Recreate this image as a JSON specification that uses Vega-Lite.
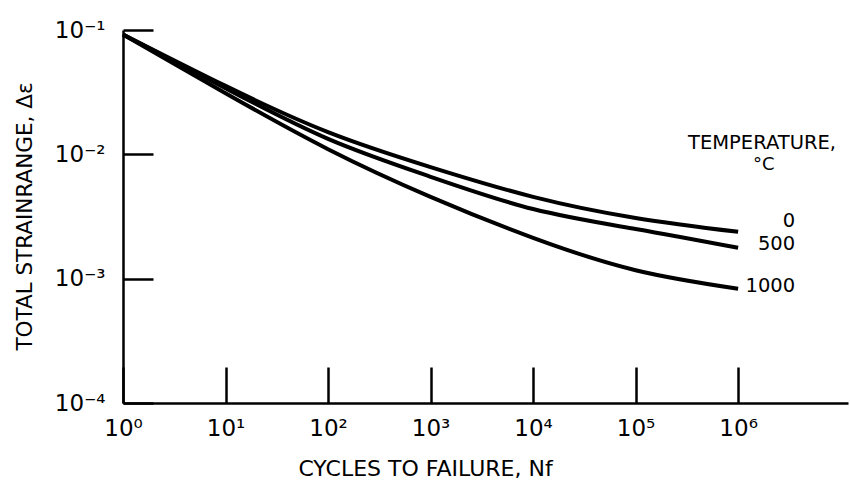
{
  "$schema": "https://vega.github.io/schema/vega-lite/v6.json",
  "width": 725,
  "height": 373,
  "autosize": {"type": "none"},
  "padding": {"left": 123, "top": 30, "right": 2, "bottom": 83},
  "background": "white",
  "config": {
    "view": {"stroke": null},
    "font": "DejaVu Sans",
    "axis": {
      "domainColor": "black",
      "domainWidth": 2.5,
      "tickColor": "black",
      "tickWidth": 2.5,
      "grid": false,
      "labelColor": "black",
      "titleColor": "black",
      "labelFont": "DejaVu Sans",
      "titleFont": "DejaVu Sans",
      "labelFlush": false,
      "labelOverlap": false,
      "labelBound": false,
      "titleFontWeight": "normal"
    }
  },
  "datasets": {
    "curves": [
      {"T": "0", "N": 1, "strain": 0.092},
      {"T": "0", "N": 10, "strain": 0.0355},
      {"T": "0", "N": 100, "strain": 0.0151},
      {"T": "0", "N": 1000, "strain": 0.0079},
      {"T": "0", "N": 10000, "strain": 0.00455},
      {"T": "0", "N": 100000, "strain": 0.00308},
      {"T": "0", "N": 1000000, "strain": 0.00238},
      {"T": "500", "N": 1, "strain": 0.092},
      {"T": "500", "N": 10, "strain": 0.034},
      {"T": "500", "N": 100, "strain": 0.0133},
      {"T": "500", "N": 1000, "strain": 0.0066},
      {"T": "500", "N": 10000, "strain": 0.00363},
      {"T": "500", "N": 100000, "strain": 0.00251},
      {"T": "500", "N": 1000000, "strain": 0.00177},
      {"T": "1000", "N": 1, "strain": 0.092},
      {"T": "1000", "N": 10, "strain": 0.031},
      {"T": "1000", "N": 100, "strain": 0.011},
      {"T": "1000", "N": 1000, "strain": 0.00455},
      {"T": "1000", "N": 10000, "strain": 0.00213},
      {"T": "1000", "N": 100000, "strain": 0.00117},
      {"T": "1000", "N": 1000000, "strain": 0.00083}
    ],
    "labels": [
      {"label": "0", "N": 3600000, "strain": 0.00292},
      {"label": "500", "N": 3600000, "strain": 0.00191},
      {"label": "1000", "N": 3600000, "strain": 0.000875}
    ],
    "heading": [
      {"text": "TEMPERATURE,", "N": 1710000, "strain": 0.01236, "size": 19.5},
      {"text": "°C", "N": 1780000, "strain": 0.00822, "size": 18}
    ]
  },
  "layer": [
    {
      "data": {"name": "curves"},
      "mark": {"type": "line", "color": "black", "strokeWidth": 4, "interpolate": "natural", "clip": false},
      "encoding": {
        "x": {
          "field": "N", "type": "quantitative",
          "scale": {"type": "log", "domain": [1, 11800000], "nice": false},
          "axis": {
            "title": "CYCLES TO FAILURE, Nf",
            "titleFontSize": 22,
            "titleX": 302,
            "titleY": 55,
            "titleAnchor": "middle",
            "values": [1, 10, 100, 1000, 10000, 100000, 1000000],
            "tickSize": -36,
            "labelPadding": 50,
            "labelFontSize": 23,
            "labelExpr": "'10' + (round(log(datum.value)/LN10) < 0 ? '⁻' : '') + ['⁰','¹','²','³','⁴','⁵','⁶','⁷'][abs(round(log(datum.value)/LN10))]"
          }
        },
        "y": {
          "field": "strain", "type": "quantitative",
          "scale": {"type": "log", "domain": [0.0001, 0.1], "nice": false},
          "axis": {
            "title": "TOTAL STRAINRANGE, Δε",
            "titleFontSize": 21.5,
            "titleX": -87,
            "titleY": 186,
            "values": [0.0001, 0.001, 0.01, 0.1],
            "tickSize": -30,
            "labelPadding": 48,
            "labelFontSize": 23,
            "labelExpr": "'10' + (round(log(datum.value)/LN10) < 0 ? '⁻' : '') + ['⁰','¹','²','³','⁴','⁵','⁶','⁷'][abs(round(log(datum.value)/LN10))]"
          }
        },
        "detail": {"field": "T", "type": "nominal"}
      }
    },
    {
      "data": {"name": "labels"},
      "mark": {"type": "text", "align": "right", "baseline": "middle", "fontSize": 19.5, "font": "DejaVu Sans", "color": "black"},
      "encoding": {
        "x": {"field": "N", "type": "quantitative"},
        "y": {"field": "strain", "type": "quantitative"},
        "text": {"field": "label"}
      }
    },
    {
      "data": {"name": "heading"},
      "mark": {"type": "text", "align": "center", "baseline": "middle", "font": "DejaVu Sans", "color": "black"},
      "encoding": {
        "x": {"field": "N", "type": "quantitative"},
        "y": {"field": "strain", "type": "quantitative"},
        "text": {"field": "text"},
        "size": {"field": "size", "type": "quantitative", "scale": null}
      }
    }
  ]
}
